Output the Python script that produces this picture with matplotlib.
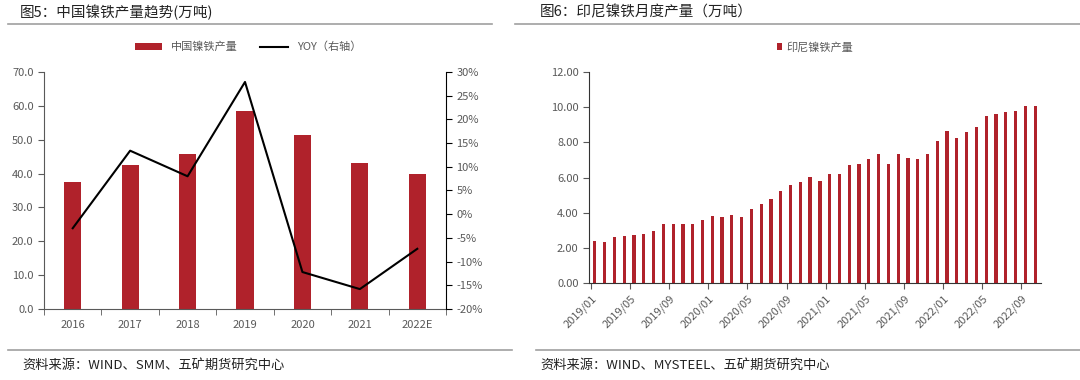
import numpy as np
import matplotlib.pyplot as plt
from matplotlib.lines import Line2D

plt.rcParams['font.family'] = ['Noto Sans CJK SC', 'DejaVu Sans']

# chart 5 data
years = ["2016", "2017", "2018", "2019", "2020", "2021", "2022E"]
cn_output = [37.4, 42.4, 45.8, 58.6, 51.3, 43.2, 40.0]
cn_yoy = [-2.96, 13.4, 8.0, 27.9, -12.2, -15.8, -7.3]

# chart 6 data (2019/01 - 2022/10)
months = [f"{y}/{m:02d}" for y in range(2019, 2023) for m in range(1, 13)][:46]
idn_output = [2.38, 2.35, 2.62, 2.65, 2.75, 2.78, 2.98, 3.35, 3.38, 3.38,
              3.35, 3.58, 3.80, 3.75, 3.88, 3.75, 4.22, 4.50, 4.75, 5.22,
              5.55, 5.75, 6.05, 5.82, 6.22, 6.22, 6.70, 6.75, 7.05, 7.35,
              6.75, 7.35, 7.10, 7.05, 7.35, 8.05, 8.62, 8.25, 8.58, 8.90,
              9.50, 9.60, 9.70, 9.80, 10.05, 10.05]

red = "#B0222B"
grey = "#595959"
W, H = 1080, 380

fig = plt.figure(figsize=(10.8, 3.8), dpi=100)

def ax_rect(x0, y0, x1, y1):
    return [x0 / W, 1 - y1 / H, (x1 - x0) / W, (y1 - y0) / H]

# titles and separator lines
fig.text(20 / W, 1 - 12 / H, "图5：中国镍铁产量趋势(万吨)", fontsize=10.5, va="center", ha="left", color="#222222")
fig.text(540 / W, 1 - 12 / H, "图6：印尼镍铁月度产量（万吨）", fontsize=10.5, va="center", ha="left", color="#222222")
fig.add_artist(Line2D([8 / W, 492 / W], [1 - 24 / H] * 2, color="#a0a0a0", lw=1.2))
fig.add_artist(Line2D([515 / W, 1], [1 - 24 / H] * 2, color="#a0a0a0", lw=1.2))
fig.add_artist(Line2D([8 / W, 512 / W], [1 - 350 / H] * 2, color="#a0a0a0", lw=1.2))
fig.add_artist(Line2D([536 / W, 1], [1 - 350 / H] * 2, color="#a0a0a0", lw=1.2))
fig.text(22 / W, 1 - 365 / H, "资料来源：WIND、SMM、五矿期货研究中心", fontsize=9.5, va="center", ha="left", color="#222222")
fig.text(540 / W, 1 - 365 / H, "资料来源：WIND、MYSTEEL、五矿期货研究中心", fontsize=9.5, va="center", ha="left", color="#222222")

# ---- chart 5 ----
ax1 = fig.add_axes(ax_rect(44, 72, 446, 309))
x = np.arange(len(years))
ax1.bar(x, cn_output, width=0.3, color=red, label="中国镍铁产量")
ax1.set_ylim(0, 70)
ax1.set_yticks(np.arange(0, 71, 10))
ax1.set_yticklabels([f"{v:.1f}" for v in np.arange(0, 71, 10)])
ax1.set_xlim(-0.5, len(years) - 0.5)
ax1.set_xticks(x)
ax1.set_xticklabels(years)
ax1.set_xticks(np.arange(-0.5, len(years), 1), minor=True)
ax1.tick_params(axis="x", which="major", length=0, pad=8)
ax1.tick_params(axis="x", which="minor", length=4, color=grey)
ax1.tick_params(axis="y", length=4, color=grey)
ax1.tick_params(labelsize=8, labelcolor=grey)
ax1.spines["top"].set_visible(False)
ax1.spines["right"].set_visible(False)
for s in ["left", "bottom"]:
    ax1.spines[s].set_color(grey)

ax2 = ax1.twinx()
ax2.plot(x, cn_yoy, color="black", lw=1.5, label="YOY（右轴）")
ax2.set_ylim(-20, 30)
ax2.set_yticks(np.arange(-20, 31, 5))
ax2.set_yticklabels([f"{v}%" for v in range(-20, 31, 5)])
ax2.tick_params(axis="y", length=4, color="black", labelsize=8, labelcolor=grey)
ax2.spines["top"].set_visible(False)
ax2.spines["left"].set_visible(False)
ax2.spines["bottom"].set_visible(False)
ax2.spines["right"].set_color("black")

h1, l1 = ax1.get_legend_handles_labels()
h2, l2 = ax2.get_legend_handles_labels()
fig.legend(h1 + h2, l1 + l2, loc="center", bbox_to_anchor=(248 / W, 1 - 47 / H), ncol=2,
           frameon=False, fontsize=8, labelcolor=grey, handlelength=2.5, handleheight=0.5,
           columnspacing=2.0)

# ---- chart 6 ----
ax3 = fig.add_axes(ax_rect(589, 72, 1041, 283))
xm = np.arange(len(months))
ax3.bar(xm, idn_output, width=0.33, color=red, label="印尼镍铁产量")
ax3.set_ylim(0, 12)
ax3.set_yticks(np.arange(0, 12.1, 2))
ax3.set_yticklabels([f"{v:.2f}" for v in np.arange(0, 12.1, 2)])
ax3.set_xlim(-0.6, len(months) - 0.4)
tick_idx = np.arange(0, len(months), 4)
ax3.set_xticks(tick_idx - 0.4)
ax3.set_xticklabels([months[i] for i in tick_idx], rotation=45, ha="right", rotation_mode="anchor")
ax3.tick_params(axis="x", length=4, color=grey, labelsize=8, labelcolor=grey)
ax3.tick_params(axis="y", length=4, color=grey, labelsize=8, labelcolor=grey)
ax3.spines["top"].set_visible(False)
ax3.spines["right"].set_visible(False)
for s in ["left", "bottom"]:
    ax3.spines[s].set_color("#333333")
ax3.legend(loc="center", bbox_to_anchor=(0.5, 1 + 25 / 211), frameon=False, fontsize=8,
           labelcolor=grey, handlelength=0.5, handleheight=0.6, handletextpad=0.4)

fig.savefig("out.png", dpi=100)
